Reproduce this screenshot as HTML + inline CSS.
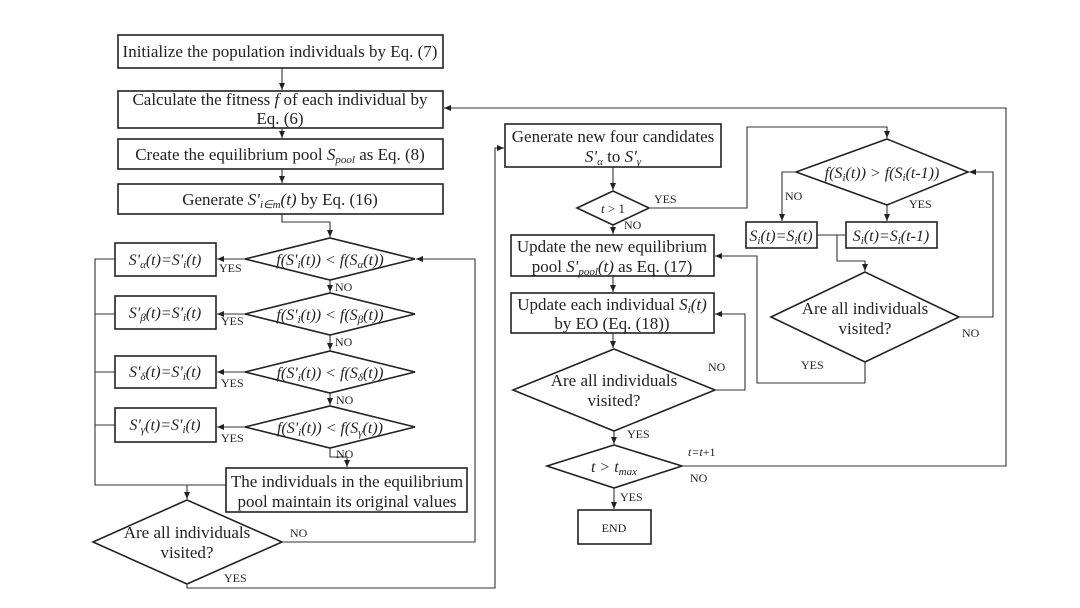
<!DOCTYPE html>
<html><head><meta charset="utf-8"><style>
html,body{margin:0;padding:0;background:#fff;}
svg{display:block;}
text{font-family:"Liberation Serif",serif;fill:#222;}
.b{fill:#fff;stroke:#222;stroke-width:1.6;}
.l{fill:none;stroke:#333;stroke-width:1.1;}
.s{font-size:17px;}
.f{font-size:16px;}
.m{font-size:12px;}
</style></head><body>
<svg width="1080" height="608" viewBox="0 0 1080 608">
<defs><marker id="a" markerWidth="8" markerHeight="8" refX="7" refY="4" orient="auto" markerUnits="userSpaceOnUse"><path d="M0,1 L7,4 L0,7z" fill="#222"/></marker></defs>

<rect class="b" x="118" y="35" width="325" height="33"/>
<text class="s" x="280" y="57" text-anchor="middle">Initialize the population individuals by Eq. (7)</text>
<rect class="b" x="118" y="91" width="325" height="37"/>
<text class="s" x="280" y="105" text-anchor="middle">Calculate the fitness <tspan font-style="italic">f</tspan> of each individual by</text>
<text class="s" x="280" y="124" text-anchor="middle">Eq. (6)</text>
<rect class="b" x="118" y="139" width="325" height="30"/>
<text class="s" x="280" y="160" text-anchor="middle">Create the equilibrium pool <tspan font-style="italic">S<tspan font-size="11" dy="3">pool</tspan></tspan><tspan dy="-3"> as Eq. (8)</tspan></text>
<rect class="b" x="118" y="184" width="325" height="30"/>
<text class="s" x="280" y="205" text-anchor="middle">Generate <tspan font-style="italic">S'<tspan font-size="11" dy="3">i∈m</tspan><tspan dy="-3">(t)</tspan></tspan> by Eq. (16)</text>
<line class="l" x1="282" y1="68" x2="282" y2="90" marker-end="url(#a)"/>
<line class="l" x1="282" y1="128" x2="282" y2="138" marker-end="url(#a)"/>
<line class="l" x1="282" y1="169" x2="282" y2="183" marker-end="url(#a)"/>
<polyline class="l" points="282,214 282,222 330,222 330,237" marker-end="url(#a)"/>

<g>
<polygon class="b" points="245,259 330,238 415,259 330,280"/>
<text class="f" x="330" y="265" text-anchor="middle" font-style="italic">f(S'<tspan font-size="11" dy="3">i</tspan><tspan dy="-3">(t)) &lt; f(S</tspan><tspan font-size="11" dy="3">α</tspan><tspan dy="-3">(t))</tspan></text>
<polygon class="b" points="245,314 330,293 415,314 330,335"/>
<text class="f" x="330" y="320" text-anchor="middle" font-style="italic">f(S'<tspan font-size="11" dy="3">i</tspan><tspan dy="-3">(t)) &lt; f(S</tspan><tspan font-size="11" dy="3">β</tspan><tspan dy="-3">(t))</tspan></text>
<polygon class="b" points="245,372 330,351 415,372 330,393"/>
<text class="f" x="330" y="378" text-anchor="middle" font-style="italic">f(S'<tspan font-size="11" dy="3">i</tspan><tspan dy="-3">(t)) &lt; f(S</tspan><tspan font-size="11" dy="3">δ</tspan><tspan dy="-3">(t))</tspan></text>
<polygon class="b" points="245,427 330,406 415,427 330,448"/>
<text class="f" x="330" y="433" text-anchor="middle" font-style="italic">f(S'<tspan font-size="11" dy="3">i</tspan><tspan dy="-3">(t)) &lt; f(S</tspan><tspan font-size="11" dy="3">γ</tspan><tspan dy="-3">(t))</tspan></text>
</g>
<line class="l" x1="330" y1="280" x2="330" y2="292" marker-end="url(#a)"/>
<line class="l" x1="330" y1="335" x2="330" y2="350" marker-end="url(#a)"/>
<line class="l" x1="330" y1="393" x2="330" y2="405" marker-end="url(#a)"/>
<polyline class="l" points="330,448 330,457 347,457 347,467" marker-end="url(#a)"/>
<text class="m" x="335" y="291">NO</text>
<text class="m" x="335" y="346">NO</text>
<text class="m" x="336" y="404">NO</text>
<text class="m" x="336" y="458">NO</text>

<rect class="b" x="115" y="243" width="101" height="33"/>
<text class="f" x="165" y="265" text-anchor="middle" font-style="italic">S'<tspan font-size="11" dy="3">α</tspan><tspan dy="-3">(t)=S'</tspan><tspan font-size="11" dy="3">i</tspan><tspan dy="-3">(t)</tspan></text>
<rect class="b" x="115" y="296" width="101" height="33"/>
<text class="f" x="165" y="318" text-anchor="middle" font-style="italic">S'<tspan font-size="11" dy="3">β</tspan><tspan dy="-3">(t)=S'</tspan><tspan font-size="11" dy="3">i</tspan><tspan dy="-3">(t)</tspan></text>
<rect class="b" x="115" y="356" width="101" height="32"/>
<text class="f" x="165" y="377" text-anchor="middle" font-style="italic">S'<tspan font-size="11" dy="3">δ</tspan><tspan dy="-3">(t)=S'</tspan><tspan font-size="11" dy="3">i</tspan><tspan dy="-3">(t)</tspan></text>
<rect class="b" x="115" y="408" width="101" height="34"/>
<text class="f" x="165" y="430" text-anchor="middle" font-style="italic">S'<tspan font-size="11" dy="3">γ</tspan><tspan dy="-3">(t)=S'</tspan><tspan font-size="11" dy="3">i</tspan><tspan dy="-3">(t)</tspan></text>
<line class="l" x1="245" y1="259" x2="217" y2="259" marker-end="url(#a)"/>
<line class="l" x1="245" y1="314" x2="217" y2="314" marker-end="url(#a)"/>
<line class="l" x1="245" y1="372" x2="217" y2="372" marker-end="url(#a)"/>
<line class="l" x1="245" y1="427" x2="217" y2="427" marker-end="url(#a)"/>
<text class="m" x="219" y="272">YES</text>
<text class="m" x="221" y="325">YES</text>
<text class="m" x="221" y="387">YES</text>
<text class="m" x="221" y="442">YES</text>
<polyline class="l" points="115,259 95,259 95,485 226,485"/>
<line class="l" x1="95" y1="314" x2="115" y2="314"/>
<line class="l" x1="95" y1="372" x2="115" y2="372"/>
<line class="l" x1="95" y1="425" x2="115" y2="425"/>
<line class="l" x1="187" y1="485" x2="187" y2="499" marker-end="url(#a)"/>

<rect class="b" x="226" y="468" width="241" height="44"/>
<text class="s" x="347" y="487" text-anchor="middle">The individuals in the equilibrium</text>
<text class="s" x="347" y="507" text-anchor="middle">pool maintain its original values</text>

<polygon class="b" points="93,542 187,500 282,542 187,584"/>
<text class="s" x="187" y="538" text-anchor="middle">Are all individuals</text>
<text class="s" x="187" y="558" text-anchor="middle">visited?</text>
<polyline class="l" points="282,542 475,542 475,259 416,259" marker-end="url(#a)"/>
<text class="m" x="290" y="537">NO</text>
<polyline class="l" points="187,584 187,588 495,588 495,148 504,148" marker-end="url(#a)"/>
<text class="m" x="224" y="582">YES</text>

<rect class="b" x="505" y="124" width="216" height="43"/>
<text class="s" x="613" y="142" text-anchor="middle">Generate new four candidates</text>
<text class="s" x="613" y="162" text-anchor="middle" font-style="italic">S'<tspan font-size="11" dy="3">α</tspan><tspan dy="-3" font-style="normal"> to </tspan><tspan>S'</tspan><tspan font-size="11" dy="3">γ</tspan></text>
<line class="l" x1="613" y1="167" x2="613" y2="190" marker-end="url(#a)"/>
<polygon class="b" points="577,208 613,191 649,208 613,225"/>
<text x="613" y="213" text-anchor="middle" font-size="13"><tspan font-style="italic">t</tspan> &gt; 1</text>
<text class="m" x="654" y="203">YES</text>
<text class="m" x="624" y="229">NO</text>
<line class="l" x1="613" y1="225" x2="613" y2="234" marker-end="url(#a)"/>
<rect class="b" x="511" y="235" width="203" height="41"/>
<text class="s" x="612" y="252" text-anchor="middle">Update the new equilibrium</text>
<text class="s" x="612" y="272" text-anchor="middle">pool <tspan font-style="italic">S'<tspan font-size="11" dy="3">pool</tspan><tspan dy="-3">(t)</tspan></tspan> as Eq. (17)</text>
<line class="l" x1="613" y1="276" x2="613" y2="292" marker-end="url(#a)"/>
<rect class="b" x="511" y="293" width="203" height="40"/>
<text class="s" x="612" y="310" text-anchor="middle">Update each individual <tspan font-style="italic">S<tspan font-size="11" dy="3">i</tspan><tspan dy="-3">(t)</tspan></tspan></text>
<text class="s" x="612" y="329" text-anchor="middle">by EO (Eq. (18))</text>
<line class="l" x1="613" y1="333" x2="613" y2="348" marker-end="url(#a)"/>
<polygon class="b" points="513,390 614,349 715,390 614,431"/>
<text class="s" x="614" y="386" text-anchor="middle">Are all individuals</text>
<text class="s" x="614" y="406" text-anchor="middle">visited?</text>
<polyline class="l" points="715,390 745,390 745,314 715,314" marker-end="url(#a)"/>
<text class="m" x="708" y="371">NO</text>
<line class="l" x1="614" y1="431" x2="614" y2="444" marker-end="url(#a)"/>
<text class="m" x="627" y="438">YES</text>
<polygon class="b" points="547,466 614,445 682,466 614,488"/>
<text class="f" x="614" y="472" text-anchor="middle" font-style="italic">t &gt; t<tspan font-size="11" dy="3">max</tspan></text>
<line class="l" x1="614" y1="488" x2="614" y2="509" marker-end="url(#a)"/>
<text class="m" x="620" y="501">YES</text>
<rect class="b" x="578" y="510" width="73" height="34"/>
<text class="m" x="614" y="532" text-anchor="middle">END</text>
<polyline class="l" points="682,466 1006,466 1006,108 444,108" marker-end="url(#a)"/>
<text class="m" x="688" y="456" font-style="italic">t=t<tspan font-style="normal">+1</tspan></text>
<text class="m" x="690" y="482">NO</text>

<polyline class="l" points="649,208 747,208 747,127 887,127 887,138" marker-end="url(#a)"/>
<polygon class="b" points="796,172 887,139 968,172 887,205"/>
<text class="f" x="882" y="178" text-anchor="middle" font-style="italic">f(S<tspan font-size="11" dy="3">i</tspan><tspan dy="-3">(t)) &gt; f(S</tspan><tspan font-size="11" dy="3">i</tspan><tspan dy="-3">(t-1))</tspan></text>
<polyline class="l" points="796,172 782,172 782,221" marker-end="url(#a)"/>
<text class="m" x="785" y="200">NO</text>
<line class="l" x1="887" y1="205" x2="887" y2="221" marker-end="url(#a)"/>
<text class="m" x="909" y="208">YES</text>
<rect class="b" x="746" y="222" width="71" height="26"/>
<text class="f" x="781" y="241" text-anchor="middle" font-style="italic">S<tspan font-size="11" dy="3">i</tspan><tspan dy="-3">(t)=S</tspan><tspan font-size="11" dy="3">i</tspan><tspan dy="-3">(t)</tspan></text>
<rect class="b" x="846" y="222" width="91" height="26"/>
<text class="f" x="891" y="241" text-anchor="middle" font-style="italic">S<tspan font-size="11" dy="3">i</tspan><tspan dy="-3">(t)=S</tspan><tspan font-size="11" dy="3">i</tspan><tspan dy="-3">(t-1)</tspan></text>
<line class="l" x1="817" y1="235" x2="846" y2="235"/>
<polyline class="l" points="837,235 837,261 865,261 865,271" marker-end="url(#a)"/>
<polygon class="b" points="771,317 865,272 959,317 865,362"/>
<text class="s" x="865" y="314" text-anchor="middle">Are all individuals</text>
<text class="s" x="865" y="334" text-anchor="middle">visited?</text>
<polyline class="l" points="959,317 993,317 993,172 969,172" marker-end="url(#a)"/>
<text class="m" x="962" y="337">NO</text>
<polyline class="l" points="865,362 865,383 757,383 757,256 715,256" marker-end="url(#a)"/>
<text class="m" x="801" y="369">YES</text>
</svg>
</body></html>
